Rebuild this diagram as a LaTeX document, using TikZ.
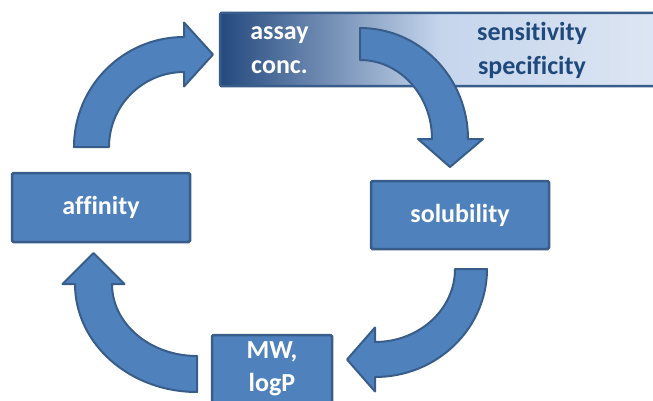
\documentclass[tikz,border=0pt]{standalone}
\usepackage{fontspec}
\setmainfont[Ligatures={CommonOff}]{Carlito}
\definecolor{boxfill}{HTML}{4F81BD}
\definecolor{boxline}{HTML}{385D8A}
\definecolor{gdark}{HTML}{244A7F}
\definecolor{gmid}{HTML}{C5D5EC}
\definecolor{glight}{HTML}{DDE6F3}
\definecolor{txtdark}{HTML}{1F497D}
\begin{document}
\begin{tikzpicture}[x=1pt,y=1pt,
  boxnode/.style={draw=boxline, line width=2.5pt, fill=boxfill, rounded corners=1.5pt,
    text=white, font=\fontsize{26}{33}\selectfont\bfseries, align=center, inner sep=0pt},
  blockarrow/.style={draw=boxline, line width=2pt, fill=boxfill, line join=round},
  lbl/.style={font=\fontsize{26}{34}\selectfont\bfseries, align=center, inner sep=0pt}]
\useasboundingbox (0,0) rectangle (653,400);
\clip (0,0) rectangle (653,400);
% top gradient box
\coordinate (tsw) at (220,314);
\coordinate (tmid) at (440,387);
\coordinate (tmidb) at (440,314);
\coordinate (tne) at (660,387);
\shade[left color=gdark, right color=gmid] (tsw) rectangle (tmid);
\shade[left color=gmid, right color=glight] (tmidb) rectangle (tne);
\draw[boxline, line width=2.5pt, rounded corners=1.5pt] (tsw) rectangle (tne);
\node[lbl, text=white] (assay) at (279.5,350) {assay\\conc.};
\node[lbl, text=txtdark] (sens) at (532,350) {sensitivity\\specificity};
% other boxes
\node[boxnode, minimum width=178, minimum height=69] (aff) at (101,192.5) {affinity};
\node[boxnode, minimum width=178, minimum height=68] (sol) at (460,185) {solubility};
\node[boxnode, minimum width=120, minimum height=68] (mw) at (272,31) {MW,\\logP};
% arrow 1: affinity -> top
\draw[blockarrow] (74,253) arc[start angle=180,end angle=90,radius=110]
  -- (184,377.5) -- (213,345.5) -- (184,313.5) -- (184,328)
  arc[start angle=90,end angle=180,radius=75] -- cycle;
% arrow 2: top -> solubility
\draw[blockarrow] (360,372) arc[start angle=90,end angle=0,x radius=108,y radius=111]
  -- (483,261) -- (450,233) -- (418,261) -- (432,261)
  arc[start angle=0,end angle=90,x radius=72,y radius=79] -- cycle;
% arrow 3: solubility -> MW
\draw[blockarrow] (487,131) arc[start angle=0,end angle=-90,x radius=112,y radius=108]
  -- (375,8.5) -- (347,40.5) -- (375,72.5) -- (375,58)
  arc[start angle=-90,end angle=0,x radius=80,y radius=73] -- cycle;
% arrow 4: MW -> affinity
\draw[blockarrow] (197,8) arc[start angle=-90,end angle=-180,x radius=122,y radius=108]
  -- (62.5,116) -- (93.5,147) -- (124.5,116) -- (112,116)
  arc[start angle=180,end angle=270,x radius=85,y radius=72] -- cycle;
\end{tikzpicture}
\end{document}
